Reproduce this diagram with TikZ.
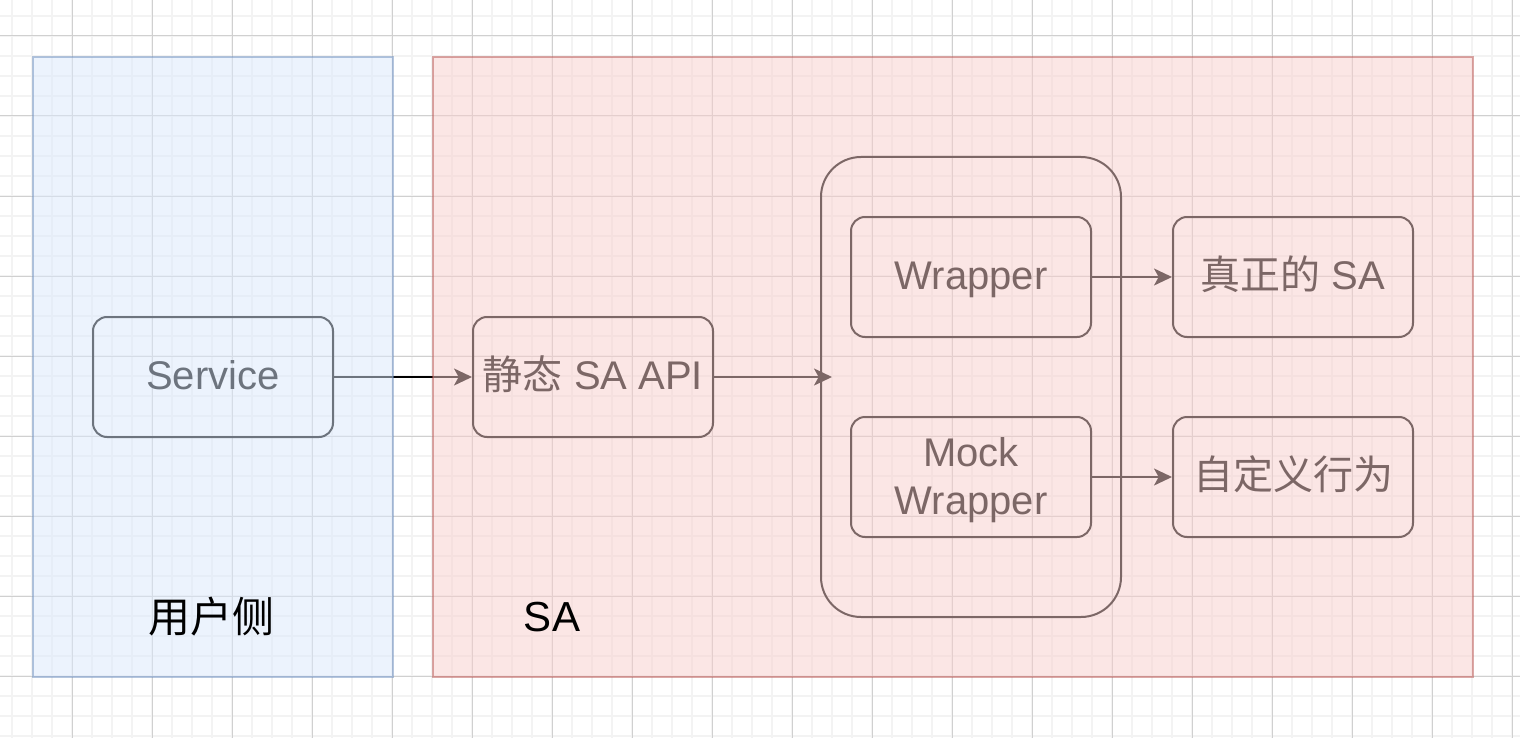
\documentclass[tikz,border=0pt]{standalone}
\usepackage{fontspec}
\setmainfont{Liberation Sans}
\newfontfamily\cjk{Noto Sans CJK SC}
\usetikzlibrary{arrows.meta}
\definecolor{gridminor}{HTML}{F3F3F3}
\definecolor{gridmajor}{HTML}{D0D0D0}
\definecolor{bluefill}{HTML}{DAE8FC}
\definecolor{bluestroke}{HTML}{6C8EBF}
\definecolor{redfill}{HTML}{F8CECC}
\definecolor{redstroke}{HTML}{B85450}
\tikzset{
  box/.style={draw=black, line width=1.5pt, rounded corners=10.5pt, minimum width=180pt,
    minimum height=90pt, inner sep=0pt, align=center, font=\fontsize{30}{36}\selectfont, text=black},
  oneline/.style={text height=24pt, text depth=6pt},
  flow/.style={draw=black, line width=1.5pt, -{Stealth[length=13.5pt,width=12.75pt,inset=3.5pt]}},
  zone/.style={line width=1.5pt, fill opacity=0.5, draw opacity=0.5, inner sep=0pt, minimum height=465pt},
  zonelabel/.style={font=\fontsize{31.5}{36}\selectfont, text=black},
  minorline/.style={draw=gridminor, line width=1.4pt},
  majorline/.style={draw=gridmajor, line width=0.75pt}
}
\begin{document}
\begin{tikzpicture}[x=0.75pt,y=-0.75pt]
\useasboundingbox (0,0) rectangle (1520,738);
\fill[white] (0,0) rectangle (1520,738);
\foreach \x in {12,32,...,1512} \draw[minorline] (\x,0) -- (\x,738);
\foreach \y in {16,36,...,736} \draw[minorline] (0,\y) -- (1520,\y);
\foreach \x in {72,152,...,1512} \draw[majorline] (\x,0) -- (\x,738);
\foreach \y in {36,116,...,736} \draw[majorline] (0,\y) -- (1520,\y);

\node[box, oneline] (service) at (213,377) {Service};
\node[box, oneline] (api) at (593,377) {{\cjk 静态} SA API};
\node[box, minimum width=225pt, minimum height=345pt, rounded corners=30pt] (group) at (971,387) {};
\node[box, oneline] (wrapper) at (971,277) {Wrapper};
\node[box] (mock) at (971,477) {\rule{0pt}{26pt}Mock\\Wrapper};
\node[box, oneline] (real) at (1293,277) {{\cjk 真正的} SA};
\node[box, oneline] (custom) at (1293,477) {\cjk 自定义行为};
\coordinate (groupin) at ([xshift=9pt]group.west |- api.east);

\draw[flow] (service) -- (api);
\draw[flow] (api.east) -- (groupin);
\draw[flow] (wrapper) -- (real);
\draw[flow] (mock) -- (custom);

\node[zone, fill=bluefill, draw=bluestroke, minimum width=270pt] (user) at (213,367) {};
\node[zone, fill=redfill, draw=redstroke, minimum width=780pt] (sa) at (953,367) {};

\node[zonelabel] (userlabel) at (211,617) {\cjk 用户侧};
\node[zonelabel] (salabel) at (552,617) {SA};
\end{tikzpicture}
\end{document}
